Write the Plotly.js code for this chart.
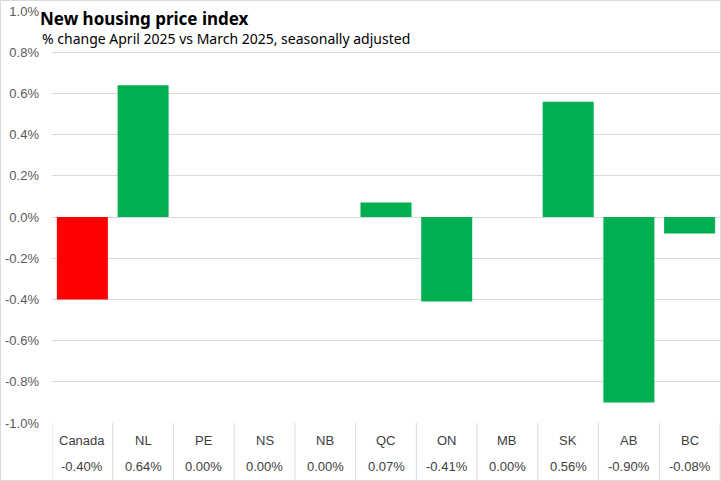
<!DOCTYPE html>
<html>
<head>
<meta charset="utf-8">
<script src="https://cdn.plot.ly/plotly-3.0.1.min.js"></script>
<style>
html,body{margin:0;padding:0;background:#fff;}
#chart{width:721px;height:481px;}
</style>
</head>
<body>
<div id="chart"></div>
<script>
const categories = ['Canada','NL','PE','NS','NB','QC','ON','MB','SK','AB','BC'];
const values = [-0.40, 0.64, 0.00, 0.00, 0.00, 0.07, -0.41, 0.00, 0.56, -0.90, -0.08];
const valueLabels = ['-0.40%','0.64%','0.00%','0.00%','0.00%','0.07%','-0.41%','0.00%','0.56%','-0.90%','-0.08%'];
const yTicks = [1.0, 0.8, 0.6, 0.4, 0.2, 0.0, -0.2, -0.4, -0.6, -0.8, -1.0];

const colors = categories.map(c => c === 'Canada' ? '#FF0000' : '#00B050');

const trace = {
  type: 'bar',
  x: categories,
  y: values,
  marker: {color: colors},
  hoverinfo: 'x+y'
};

const plotH = 412;
const plotW = 668;
const annotations = [];
categories.forEach((c, i) => {
  annotations.push({x: i, xref: 'x', y: -17/plotH, yref: 'paper', text: c, showarrow: false,
    font: {family: 'Liberation Sans, Arial, sans-serif', size: 13, color: '#404040'}, yanchor: 'middle'});
  annotations.push({x: i, xref: 'x', y: -43/plotH, yref: 'paper', text: valueLabels[i], showarrow: false,
    font: {family: 'Liberation Sans, Arial, sans-serif', size: 13, color: '#404040'}, yanchor: 'middle'});
});
annotations.push({xref: 'paper', yref: 'paper', x: (40-52)/plotW, y: (423-39)/plotH, xanchor: 'left', yanchor: 'middle',
  text: '% change April 2025 vs March 2025, seasonally adjusted', showarrow: false,
  font: {family: 'Noto Sans, Open Sans, sans-serif', size: 14, color: '#000'}});

const shapes = [];
for (let i = 0; i <= categories.length; i++) {
  shapes.push({type: 'line', xref: 'x', yref: 'paper', x0: i - 0.5, x1: i - 0.5, y0: 0, y1: -58/plotH,
    line: {color: '#d9d9d9', width: 1}});
}
shapes.push({type: 'rect', xref: 'paper', yref: 'paper',
  x0: (0.5-52)/plotW, x1: (720.5-52)/plotW, y0: (423-480.5)/plotH, y1: (423-0.5)/plotH,
  line: {color: '#d9d9d9', width: 1}, fillcolor: 'rgba(0,0,0,0)'});

const layout = {
  width: 721, height: 481,
  margin: {l: 52, r: 1, t: 11, b: 58},
  paper_bgcolor: '#fff', plot_bgcolor: '#fff',
  showlegend: false,
  bargap: 0.16,
  title: {text: '<b>New housing price index</b>', x: 40/721, xanchor: 'left', xref: 'container',
    y: 1 - 19/481, yanchor: 'middle', yref: 'container',
    font: {family: 'Noto Sans, Open Sans, sans-serif', size: 17, color: '#000'}},
  xaxis: {showticklabels: false, showgrid: false, zeroline: false, showline: false, ticks: '',
    range: [-0.5, categories.length - 0.5]},
  yaxis: {range: [-1.0, 1.0], tickvals: yTicks, ticktext: yTicks.map(v => v.toFixed(1) + '%'),
    showgrid: true, gridcolor: '#d9d9d9', gridwidth: 1, zeroline: true, zerolinecolor: '#d9d9d9', zerolinewidth: 1,
    showline: false, ticks: '', ticklabelstandoff: 12,
    tickfont: {family: 'Liberation Sans, Arial, sans-serif', size: 13, color: '#595959'}},
  annotations: annotations,
  shapes: shapes
};

Plotly.newPlot('chart', [trace], layout, {displayModeBar: false, staticPlot: true});
</script>
</body>
</html>
